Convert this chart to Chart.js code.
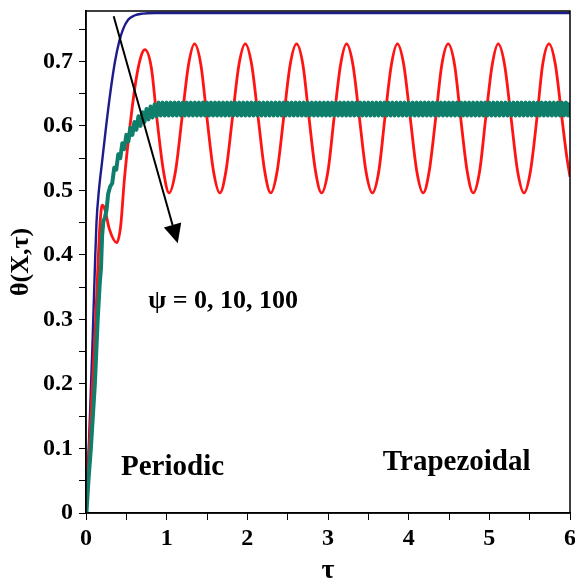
<!DOCTYPE html>
<html>
<head>
<meta charset="utf-8">
<script src="https://cdn.jsdelivr.net/npm/chart.js@4.4.1/dist/chart.umd.min.js"></script>
<style>
  body { margin: 0; background: #fff; }
  canvas { display: block; }
</style>
</head>
<body>
<canvas id="theta-chart" width="575" height="588"></canvas>
<script>
// psi = 0 : smooth rise to steady state
const navyTau = [0, 0.04, 0.08, 0.11, 0.13, 0.16, 0.2, 0.25, 0.3, 0.36, 0.41, 0.46, 0.52, 0.6, 0.7, 0.85, 6];
const navyTheta = [0, 0.12, 0.26, 0.38, 0.45, 0.5, 0.545, 0.6, 0.65, 0.7, 0.73, 0.75, 0.764, 0.771, 0.774, 0.775, 0.775];

// psi = 10 : periodic oscillation
const redTau = [
  0, 0.04, 0.08, 0.12, 0.15, 0.175, 0.2, 0.23, 0.29, 0.38, 0.43, 0.475, 0.54, 0.62, 0.68, 0.73,
  0.81, 0.88, 0.96, 1.03, 1.11, 1.19, 1.27, 1.345, 1.425, 1.5, 1.58, 1.66,
  1.735, 1.815, 1.895, 1.975, 2.055, 2.135, 2.215, 2.29,
  2.37, 2.45, 2.53, 2.61, 2.69, 2.765, 2.845, 2.92,
  3, 3.075, 3.155, 3.23, 3.31, 3.39, 3.47, 3.55,
  3.63, 3.705, 3.785, 3.86, 3.94, 4.02, 4.1, 4.18,
  4.255, 4.335, 4.41, 4.49, 4.57, 4.645, 4.725, 4.8,
  4.88, 4.955, 5.035, 5.11, 5.19, 5.27, 5.35, 5.43,
  5.51, 5.59, 5.66, 5.74, 5.82, 5.9, 5.96, 6
];
const redTheta = [
  0, 0.1, 0.2, 0.3, 0.39, 0.45, 0.477, 0.472, 0.44, 0.419, 0.445, 0.516, 0.594, 0.671, 0.707, 0.718,
  0.69, 0.61, 0.53, 0.496, 0.53, 0.612, 0.694, 0.727, 0.694, 0.612, 0.53, 0.496,
  0.53, 0.612, 0.694, 0.727, 0.694, 0.612, 0.53, 0.496,
  0.53, 0.612, 0.694, 0.727, 0.694, 0.612, 0.53, 0.496,
  0.53, 0.612, 0.694, 0.727, 0.694, 0.612, 0.53, 0.496,
  0.53, 0.612, 0.694, 0.727, 0.694, 0.612, 0.53, 0.496,
  0.53, 0.612, 0.694, 0.727, 0.694, 0.612, 0.53, 0.496,
  0.53, 0.612, 0.694, 0.727, 0.694, 0.612, 0.53, 0.496,
  0.53, 0.612, 0.694, 0.727, 0.694, 0.612, 0.552, 0.521
];

// psi = 100 : fast small ripple around the mean
const tealTau = [
  0.005, 0.03, 0.06, 0.11, 0.145, 0.17, 0.186, 0.2, 0.215, 0.235, 0.255, 0.275,
  0.3, 0.325, 0.35, 0.375, 0.4, 0.425, 0.45, 0.475,
  0.5, 0.525, 0.55, 0.575, 0.6, 0.625, 0.65, 0.675, 0.7, 0.725, 0.75, 0.775, 0.8, 0.825, 0.85, 0.875, 0.9, 0.925, 0.95, 0.975,
  1, 1.025, 1.05, 1.075, 1.1, 1.125, 1.15, 1.175, 1.2, 1.225, 1.25, 1.275, 1.3, 1.325, 1.35, 1.375, 1.4, 1.425, 1.45, 1.475,
  1.5, 1.525, 1.55, 1.575, 1.6, 1.625, 1.65, 1.675, 1.7, 1.725, 1.75, 1.775, 1.8, 1.825, 1.85, 1.875, 1.9, 1.925, 1.95, 1.975,
  2, 2.025, 2.05, 2.075, 2.1, 2.125, 2.15, 2.175, 2.2, 2.225, 2.25, 2.275, 2.3, 2.325, 2.35, 2.375, 2.4, 2.425, 2.45, 2.475,
  2.5, 2.525, 2.55, 2.575, 2.6, 2.625, 2.65, 2.675, 2.7, 2.725, 2.75, 2.775, 2.8, 2.825, 2.85, 2.875, 2.9, 2.925, 2.95, 2.975,
  3, 3.025, 3.05, 3.075, 3.1, 3.125, 3.15, 3.175, 3.2, 3.225, 3.25, 3.275, 3.3, 3.325, 3.35, 3.375, 3.4, 3.425, 3.45, 3.475,
  3.5, 3.525, 3.55, 3.575, 3.6, 3.625, 3.65, 3.675, 3.7, 3.725, 3.75, 3.775, 3.8, 3.825, 3.85, 3.875, 3.9, 3.925, 3.95, 3.975,
  4, 4.025, 4.05, 4.075, 4.1, 4.125, 4.15, 4.175, 4.2, 4.225, 4.25, 4.275, 4.3, 4.325, 4.35, 4.375, 4.4, 4.425, 4.45, 4.475,
  4.5, 4.525, 4.55, 4.575, 4.6, 4.625, 4.65, 4.675, 4.7, 4.725, 4.75, 4.775, 4.8, 4.825, 4.85, 4.875, 4.9, 4.925, 4.95, 4.975,
  5, 5.025, 5.05, 5.075, 5.1, 5.125, 5.15, 5.175, 5.2, 5.225, 5.25, 5.275, 5.3, 5.325, 5.35, 5.375, 5.4, 5.425, 5.45, 5.475,
  5.5, 5.525, 5.55, 5.575, 5.6, 5.625, 5.65, 5.675, 5.7, 5.725, 5.75, 5.775, 5.8, 5.825, 5.85, 5.875, 5.9, 5.925, 5.95, 5.975,
  6
];
const tealTheta = [
  0, 0.05, 0.1, 0.2, 0.3, 0.355, 0.38, 0.43, 0.452, 0.458, 0.47, 0.495,
  0.506, 0.511, 0.535, 0.532, 0.556, 0.55, 0.573, 0.564,
  0.586, 0.576, 0.597, 0.586, 0.606, 0.594, 0.615, 0.6, 0.621, 0.606, 0.626, 0.61, 0.63, 0.613, 0.633, 0.615, 0.636, 0.616, 0.636, 0.616,
  0.636, 0.616, 0.636, 0.616, 0.636, 0.616, 0.636, 0.616, 0.636, 0.616, 0.636, 0.616, 0.636, 0.616, 0.636, 0.616, 0.636, 0.616, 0.636, 0.616,
  0.636, 0.616, 0.636, 0.616, 0.636, 0.616, 0.636, 0.616, 0.636, 0.616, 0.636, 0.616, 0.636, 0.616, 0.636, 0.616, 0.636, 0.616, 0.636, 0.616,
  0.636, 0.616, 0.636, 0.616, 0.636, 0.616, 0.636, 0.616, 0.636, 0.616, 0.636, 0.616, 0.636, 0.616, 0.636, 0.616, 0.636, 0.616, 0.636, 0.616,
  0.636, 0.616, 0.636, 0.616, 0.636, 0.616, 0.636, 0.616, 0.636, 0.616, 0.636, 0.616, 0.636, 0.616, 0.636, 0.616, 0.636, 0.616, 0.636, 0.616,
  0.636, 0.616, 0.636, 0.616, 0.636, 0.616, 0.636, 0.616, 0.636, 0.616, 0.636, 0.616, 0.636, 0.616, 0.636, 0.616, 0.636, 0.616, 0.636, 0.616,
  0.636, 0.616, 0.636, 0.616, 0.636, 0.616, 0.636, 0.616, 0.636, 0.616, 0.636, 0.616, 0.636, 0.616, 0.636, 0.616, 0.636, 0.616, 0.636, 0.616,
  0.636, 0.616, 0.636, 0.616, 0.636, 0.616, 0.636, 0.616, 0.636, 0.616, 0.636, 0.616, 0.636, 0.616, 0.636, 0.616, 0.636, 0.616, 0.636, 0.616,
  0.636, 0.616, 0.636, 0.616, 0.636, 0.616, 0.636, 0.616, 0.636, 0.616, 0.636, 0.616, 0.636, 0.616, 0.636, 0.616, 0.636, 0.616, 0.636, 0.616,
  0.636, 0.616, 0.636, 0.616, 0.636, 0.616, 0.636, 0.616, 0.636, 0.616, 0.636, 0.616, 0.636, 0.616, 0.636, 0.616, 0.636, 0.616, 0.636, 0.616,
  0.636, 0.616, 0.636, 0.616, 0.636, 0.616, 0.636, 0.616, 0.636, 0.616, 0.636, 0.616, 0.636, 0.616, 0.636, 0.616, 0.636, 0.616, 0.636, 0.616,
  0.636
];

const serif = '"Liberation Serif", "Times New Roman", serif';

// Arrow through the curves (tail, head) and the in-plot notes, placed in data units
const arrowFrom = [0.343, 0.770];
const arrowTo = [1.137, 0.418];
const notes = [
    { text: '\u03C8 = 0, 10, 100', tau: 0.773, theta: 0.318, size: 26 },
    { text: 'Periodic', tau: 0.434, theta: 0.059, size: 29 },
    { text: 'Trapezoidal', tau: 3.68, theta: 0.067, size: 29 }
];

function toPoints(xs, ys) {
    return xs.map((t, i) => ({ x: t, y: ys[i] }));
}

function isMajor(v, step) {
    const r = v / step;
    return Math.abs(r - Math.round(r)) < 1e-6;
}

const overlay = {
    id: 'overlay',
    afterDatasetsDraw(chart) {
        const { ctx, chartArea: a, scales: { x, y } } = chart;
        ctx.save();

        // box round the plot
        ctx.strokeStyle = '#000';
        ctx.lineWidth = 1.5;
        ctx.strokeRect(a.left, a.top, a.right - a.left, a.bottom - a.top);

        // arrow
        const x0 = x.getPixelForValue(arrowFrom[0]), y0 = y.getPixelForValue(arrowFrom[1]);
        const x1 = x.getPixelForValue(arrowTo[0]), y1 = y.getPixelForValue(arrowTo[1]);
        const ang = Math.atan2(y1 - y0, x1 - x0);
        const headLen = 19, headHalf = 9;
        const bx = x1 - headLen * Math.cos(ang), by = y1 - headLen * Math.sin(ang);
        ctx.strokeStyle = '#000';
        ctx.lineWidth = 2;
        ctx.beginPath();
        ctx.moveTo(x0, y0);
        ctx.lineTo(bx, by);
        ctx.stroke();
        ctx.fillStyle = '#000';
        ctx.beginPath();
        ctx.moveTo(x1, y1);
        ctx.lineTo(bx + headHalf * Math.sin(ang), by - headHalf * Math.cos(ang));
        ctx.lineTo(bx - headHalf * Math.sin(ang), by + headHalf * Math.cos(ang));
        ctx.closePath();
        ctx.fill();

        // notes
        ctx.textAlign = 'left';
        ctx.textBaseline = 'alphabetic';
        notes.forEach(n => {
            ctx.font = 'bold ' + n.size + 'px ' + serif;
            ctx.fillText(n.text, x.getPixelForValue(n.tau), y.getPixelForValue(n.theta));
        });
        ctx.restore();
    }
};

new Chart(document.getElementById('theta-chart'), {
    type: 'line',
    data: {
        datasets: [
            {
                label: '\u03C8 = 100',
                data: toPoints(tealTau, tealTheta),
                borderColor: '#0f7f6c',
                borderWidth: 4,
                borderJoinStyle: 'round',
                tension: 0,
                order: 0
            },
            {
                label: '\u03C8 = 10',
                data: toPoints(redTau, redTheta),
                borderColor: '#ff1414',
                borderWidth: 2.8,
                cubicInterpolationMode: 'monotone',
                order: 1
            },
            {
                label: '\u03C8 = 0',
                data: toPoints(navyTau, navyTheta),
                borderColor: '#1c1c8c',
                borderWidth: 2.4,
                cubicInterpolationMode: 'monotone',
                order: 2
            }
        ]
    },
    options: {
        responsive: false,
        animation: false,
        parsing: false,
        elements: { point: { radius: 0 } },
        layout: { padding: { left: 0, right: 5, top: 11, bottom: 0 } },
        plugins: { legend: { display: false }, tooltip: { enabled: false } },
        scales: {
            x: {
                type: 'linear',
                min: 0,
                max: 6,
                afterFit(scale) {
                    scale.height = 75;
                    scale.paddingLeft = 0;
                    scale.paddingRight = 0;
                },
                border: { color: '#000', width: 1.5 },
                grid: { drawOnChartArea: false, tickLength: 7, color: '#000' },
                ticks: {
                    stepSize: 0.5,
                    includeBounds: false,
                    autoSkip: false,
                    maxRotation: 0,
                    padding: 4,
                    color: '#000',
                    font: { family: serif, size: 24, weight: 'bold' },
                    callback: v => isMajor(v, 1) ? String(Math.round(v)) : ''
                },
                title: {
                    display: true,
                    text: '\u03C4',
                    color: '#000',
                    font: { family: serif, size: 28, weight: 'bold' },
                    padding: { top: 0, bottom: 0 }
                }
            },
            y: {
                type: 'linear',
                min: 0,
                max: 0.778,
                afterFit(scale) {
                    scale.width = 86;
                    scale.paddingTop = 0;
                    scale.paddingBottom = 0;
                },
                border: { color: '#000', width: 1.5 },
                grid: { drawOnChartArea: false, tickLength: 7, color: '#000' },
                ticks: {
                    stepSize: 0.05,
                    includeBounds: false,
                    autoSkip: false,
                    padding: 6,
                    color: '#000',
                    font: { family: serif, size: 24, weight: 'bold' },
                    callback: v => isMajor(v, 0.1) ? (v === 0 ? '0' : v.toFixed(1)) : ''
                },
                title: {
                    display: true,
                    text: '\u03B8(X,\u03C4)',
                    color: '#000',
                    font: { family: serif, size: 26, weight: 'bold' },
                    padding: { top: 6, bottom: 0 }
                }
            }
        }
    },
    plugins: [overlay]
});
</script>
</body>
</html>
